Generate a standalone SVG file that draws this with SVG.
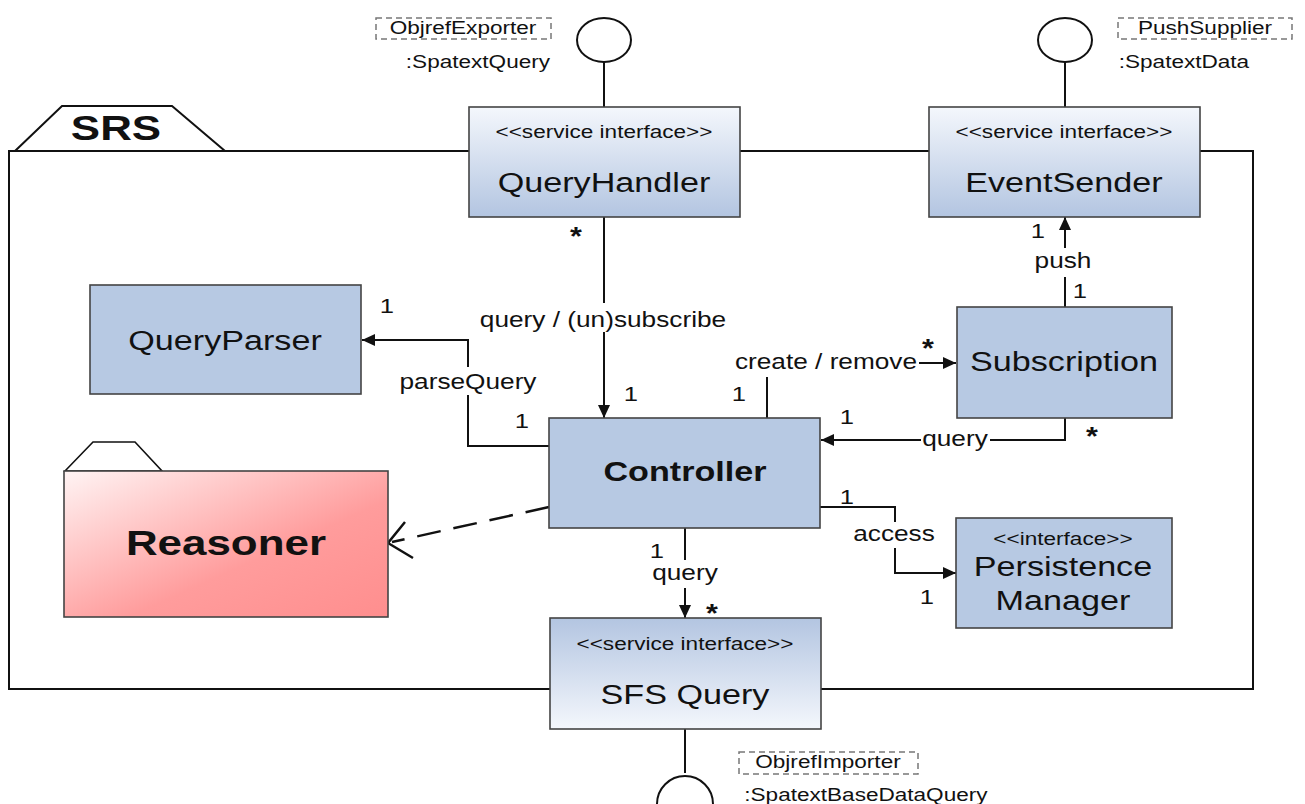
<svg xmlns="http://www.w3.org/2000/svg" width="1305" height="804" viewBox="0 0 1305 804">
<style>
text{font-family:"Liberation Sans",Arial,sans-serif;fill:#111;text-anchor:middle;transform-box:fill-box;transform-origin:center;transform:scaleX(1.22)}
.box{fill:#b7c9e3;stroke:#444;stroke-width:1.6}
.gbox{fill:url(#gDown);stroke:#444;stroke-width:1.6}
.gboxr{fill:url(#gUp);stroke:#444;stroke-width:1.6}
.title{font-size:28px}
.stereo{font-size:18.5px}
.lbl{font-size:21.5px}
.mult{font-size:21px}
.star{font-size:25px;font-weight:bold}
.dash{fill:none;stroke:#777;stroke-width:1.5;stroke-dasharray:6 4}
.small{font-size:18.5px}
.ln{fill:none;stroke:#111;stroke-width:2}
</style>
<defs>
<linearGradient id="gDown" x1="0" y1="0" x2="0" y2="1"><stop offset="0" stop-color="#f4f7fc"/><stop offset="1" stop-color="#b3c5e1"/></linearGradient>
<linearGradient id="gUp" x1="0" y1="0" x2="0" y2="1"><stop offset="0" stop-color="#b3c5e1"/><stop offset="1" stop-color="#f4f7fc"/></linearGradient>
<linearGradient id="gRed" x1="0" y1="0" x2="1" y2="1"><stop offset="0" stop-color="#fff4f4"/><stop offset="0.6" stop-color="#ff9c9c"/><stop offset="1" stop-color="#ff8e8e"/></linearGradient>
<marker id="arr" markerUnits="userSpaceOnUse" markerWidth="14" markerHeight="12" refX="13" refY="6" orient="auto"><path d="M0,0 L13,6 L0,12 z" fill="#111"/></marker>
</defs>
<rect width="1305" height="804" fill="#fff"/>

<g id="SRS">
<polygon points="15,151 62,106 172,106 225,151" fill="#fff" stroke="#111" stroke-width="2"/>
<rect x="9" y="151" width="1244" height="538" fill="#fff" stroke="#111" stroke-width="2"/>
<text x="116" y="140" style="font-size:36px;font-weight:bold">SRS</text>
</g>

<g id="connectors">
<path class="ln" d="M604,62 V107"/>
<path class="ln" d="M1065,62 V107"/>
<path class="ln" d="M685,729 V773"/>
<path class="ln" d="M604,217 V303"/>
<path class="ln" d="M604,332 V418" marker-end="url(#arr)"/>
<path class="ln" d="M549,446 H468 V395"/>
<path class="ln" d="M468,367 V340 H362" marker-end="url(#arr)"/>
<path class="ln" d="M767,418 V377"/>
<path class="ln" d="M919,363 H956" marker-end="url(#arr)"/>
<path class="ln" d="M1065,307 V277"/>
<path class="ln" d="M1065,248 V217" marker-end="url(#arr)"/>
<path class="ln" d="M1065,418 V440 H990"/>
<path class="ln" d="M921,440 H821" marker-end="url(#arr)"/>
<path class="ln" d="M820,507 H895 V522"/>
<path class="ln" d="M895,548 V573 H956" marker-end="url(#arr)"/>
<path class="ln" d="M685,528 V560"/>
<path class="ln" d="M685,588 V618" marker-end="url(#arr)"/>
<path d="M549,507 L392,542" fill="none" stroke="#111" stroke-width="2.5" stroke-dasharray="24 13"/>
<path d="M405,522 L388,543 L413,558" fill="none" stroke="#111" stroke-width="2.5"/>
<text class="lbl" x="603" y="327">query / (un)subscribe</text>
<text class="star" x="576" y="245">*</text>
<text class="mult" x="631" y="401">1</text>
<text class="lbl" x="468" y="389">parseQuery</text>
<text class="mult" x="387" y="313">1</text>
<text class="mult" x="522" y="428">1</text>
<text class="lbl" x="826" y="369">create / remove</text>
<text class="mult" x="739" y="401">1</text>
<text class="star" x="928" y="357">*</text>
<text class="lbl" x="1063" y="268">push</text>
<text class="mult" x="1038" y="238">1</text>
<text class="mult" x="1080" y="298">1</text>
<text class="lbl" x="955" y="446">query</text>
<text class="mult" x="847" y="424">1</text>
<text class="star" x="1092" y="445">*</text>
<text class="lbl" x="894" y="541">access</text>
<text class="mult" x="847" y="504">1</text>
<text class="mult" x="927" y="604">1</text>
<text class="lbl" x="685" y="580">query</text>
<text class="mult" x="657" y="558">1</text>
<text class="star" x="712" y="622">*</text>
</g>

<g id="ObjrefExporter">
<ellipse cx="604" cy="40" rx="27" ry="22" fill="#fff" stroke="#111" stroke-width="2"/>
<rect class="dash" x="376" y="18" width="175" height="21"/>
<text class="small" x="463" y="34">ObjrefExporter</text>
<text class="small" x="478" y="68">:SpatextQuery</text>
</g>

<g id="PushSupplier">
<ellipse cx="1065" cy="40" rx="27" ry="22" fill="#fff" stroke="#111" stroke-width="2"/>
<rect class="dash" x="1118" y="18" width="174" height="21"/>
<text class="small" x="1205" y="34">PushSupplier</text>
<text class="small" x="1184" y="68">:SpatextData</text>
</g>

<g id="ObjrefImporter">
<path d="M657,804 A28,28 0 0 1 713,804" fill="none" stroke="#111" stroke-width="2"/>
<rect class="dash" x="739" y="752" width="179" height="22"/>
<text class="small" x="828" y="768">ObjrefImporter</text>
<text class="small" x="866" y="801">:SpatextBaseDataQuery</text>
</g>

<g id="QueryHandler">
<rect class="gbox" x="469" y="107" width="271" height="110"/>
<text class="stereo" x="604" y="138">&lt;&lt;service interface&gt;&gt;</text>
<text class="title" x="604" y="192">QueryHandler</text>
</g>

<g id="EventSender">
<rect class="gbox" x="929" y="107" width="271" height="110"/>
<text class="stereo" x="1064" y="138">&lt;&lt;service interface&gt;&gt;</text>
<text class="title" x="1064" y="192">EventSender</text>
</g>

<g id="QueryParser">
<rect class="box" x="90" y="285" width="271" height="109"/>
<text class="title" x="225" y="350">QueryParser</text>
</g>

<g id="Subscription">
<rect class="box" x="957" y="307" width="215" height="111"/>
<text class="title" x="1064" y="371">Subscription</text>
</g>

<g id="Controller">
<rect class="box" x="549" y="418" width="271" height="110"/>
<text class="title" x="685" y="481" style="font-weight:bold">Controller</text>
</g>

<g id="Reasoner">
<polygon points="65,471 93,442 135,442 162,471" fill="#fff" stroke="#111" stroke-width="1.6"/>
<rect x="64" y="471" width="324" height="146" fill="url(#gRed)" stroke="#444" stroke-width="1.6"/>
<text x="226" y="555" style="font-size:36px;font-weight:bold">Reasoner</text>
</g>

<g id="PersistenceManager">
<rect class="box" x="956" y="518" width="216" height="110"/>
<text class="stereo" x="1063" y="545">&lt;&lt;interface&gt;&gt;</text>
<text class="title" x="1063" y="576">Persistence</text>
<text class="title" x="1063" y="610">Manager</text>
</g>

<g id="SFSQuery">
<rect class="gboxr" x="550" y="618" width="271" height="111"/>
<text class="stereo" x="685" y="650">&lt;&lt;service interface&gt;&gt;</text>
<text class="title" x="685" y="704">SFS Query</text>
</g>
</svg>
